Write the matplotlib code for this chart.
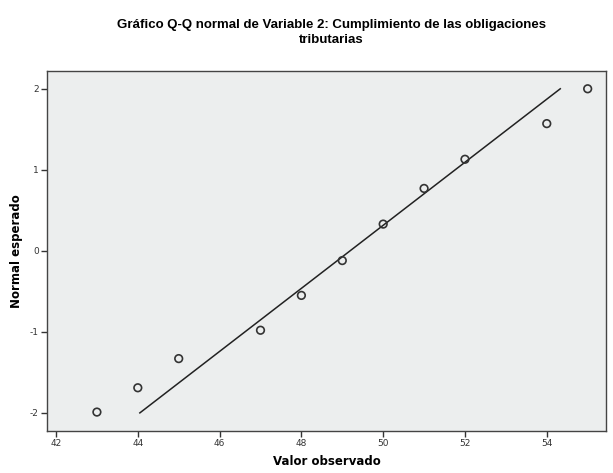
import numpy as np
import matplotlib.pyplot as plt

plt.rcParams['font.family'] = ['Liberation Sans', 'DejaVu Sans']
plt.rcParams['axes.unicode_minus'] = False

# Observed values and their expected normal scores
observed = [43, 44, 45, 47, 48, 49, 50, 51, 52, 54, 55]
expected = [-1.99, -1.69, -1.33, -0.98, -0.55, -0.12, 0.33, 0.77, 1.13, 1.57, 2.00]

# Reference line: expected = (x - mean) / sd
sample_mean = 49.19
sample_sd = 2.57

fig = plt.figure(figsize=(6.13, 4.73), dpi=100)
ax = fig.add_axes([0.0767, 0.0894, 0.912, 0.7606])
ax.set_facecolor('#ECEEEE')

z = np.array([-2.0, 2.0])
ax.plot(sample_mean + z * sample_sd, z, color='#222222', linewidth=1.1)
ax.scatter(observed, expected, s=30, facecolors='none', edgecolors='#333333',
           linewidths=1.2, zorder=3)

ax.set_xlim(41.78, 55.45)
ax.set_ylim(-2.22, 2.22)
ax.set_xticks([42, 44, 46, 48, 50, 52, 54])
ax.set_yticks([-2, -1, 0, 1, 2])
ax.tick_params(direction='out', length=4, width=1, labelsize=6.5,
               colors='#333333', pad=2)
for lbl in ax.get_xticklabels() + ax.get_yticklabels():
    lbl.set_family('DejaVu Sans')
for side in ax.spines.values():
    side.set_color('#444444')
    side.set_linewidth(1)

ax.set_xlabel('Valor observado', fontsize=8.5, fontweight='bold', labelpad=5,
              family='DejaVu Sans')
ax.set_ylabel('Normal esperado', fontsize=8.5, fontweight='bold', labelpad=5,
              family='DejaVu Sans')

fig.text(0.54, 0.96, 'Gráfico Q-Q normal de Variable 2: Cumplimiento de las obligaciones\ntributarias',
         ha='center', va='top', fontsize=9.5, fontweight='bold', linespacing=1.3)

fig.savefig('out.png', dpi=100)
